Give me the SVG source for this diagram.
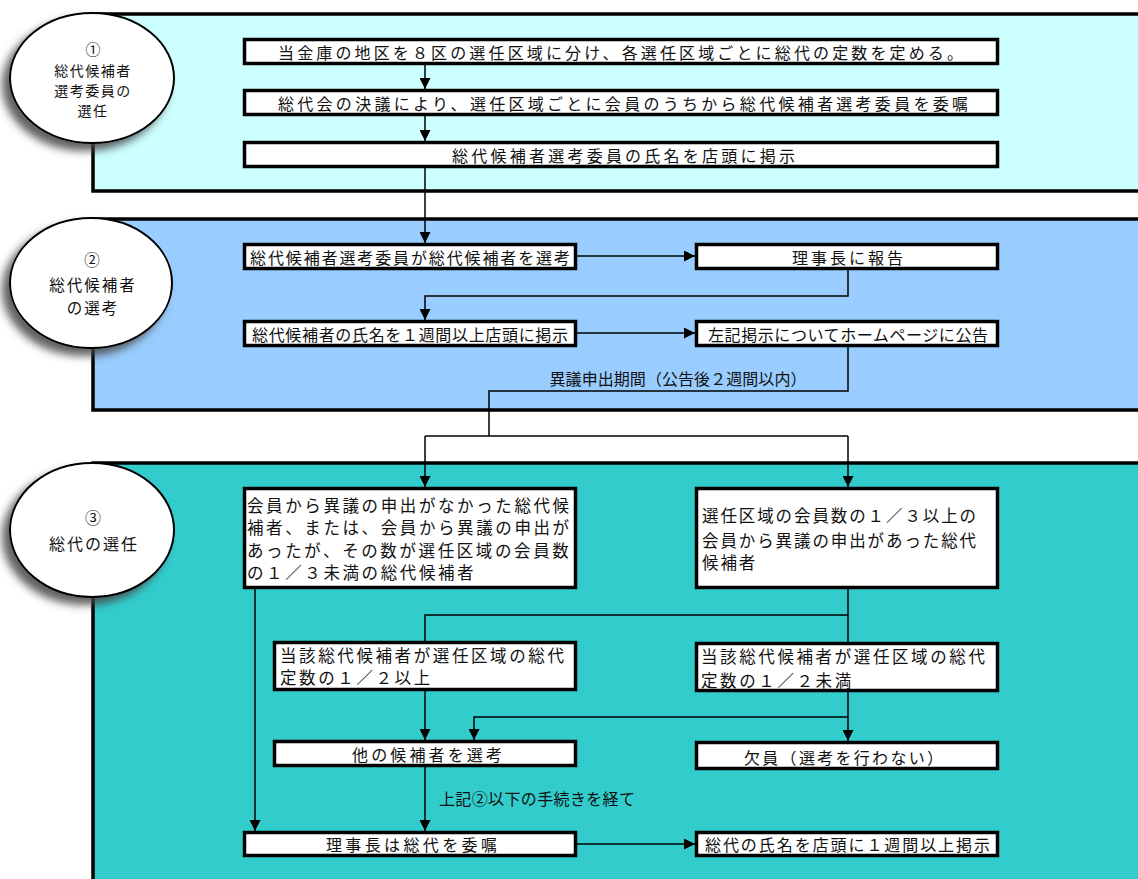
<svg xmlns="http://www.w3.org/2000/svg" width="1138" height="879" viewBox="0 0 1138 879">
<defs>
<style>
.panel{stroke:#000;stroke-width:3.5}
.box{fill:#fff;stroke:#000;stroke-width:3.5}
.oval{fill:#fff;stroke:#000;stroke-width:2;filter:url(#sh)}
.t{font-family:"Noto Sans CJK JP","Noto Sans CJK SC",sans-serif;font-size:16px;fill:#111}
.m{font-size:16.5px;letter-spacing:2.6px}
.ot{font-family:"Noto Sans CJK JP",sans-serif;fill:#111;text-anchor:middle;dominant-baseline:central}
.ln{fill:none;stroke:#000;stroke-width:1.5}
.ar{marker-end:url(#ah)}
</style>
<marker id="ah" viewBox="0 0 10 10" refX="10" refY="5" markerWidth="11" markerHeight="11" markerUnits="userSpaceOnUse" orient="auto">
<path d="M0,0 L10,5 L0,10 z" fill="#000"/>
</marker>
<filter id="sh" x="-30%" y="-30%" width="160%" height="160%">
<feDropShadow dx="-7" dy="7" stdDeviation="4" flood-color="#444" flood-opacity="0.85"/>
</filter>
</defs>

<g id="panels">
<rect class="panel" x="93" y="14" width="1060" height="177" fill="#CCFFFF"/>
<rect class="panel" x="93" y="219" width="1060" height="191" fill="#99CCFF"/>
<rect class="panel" x="93" y="463" width="1060" height="430" fill="#33CCCC"/>
</g>

<g id="stage1">
<ellipse class="oval" cx="92" cy="78" rx="82" ry="65"/>
<text class="ot" font-size="14"><tspan x="93" y="48" font-size="15">①</tspan><tspan x="93" y="70" letter-spacing="1.5">総代候補者</tspan><tspan x="93" y="90" letter-spacing="1.5">選考委員の</tspan><tspan x="93" y="110" letter-spacing="1.5">選任</tspan></text>
</g>
<g id="stage2">
<ellipse class="oval" cx="91" cy="283" rx="81" ry="65"/>
<text class="ot" font-size="15.5"><tspan x="92" y="259">②</tspan><tspan x="93" y="284" letter-spacing="2">総代候補者</tspan><tspan x="93" y="307" letter-spacing="2">の選考</tspan></text>
</g>
<g id="stage3">
<ellipse class="oval" cx="92" cy="530" rx="82" ry="67"/>
<text class="ot" font-size="16"><tspan x="93" y="517">③</tspan><tspan x="94" y="543" letter-spacing="2">総代の選任</tspan></text>
</g>

<g id="connectors">
<path class="ln ar" d="M425,65 V89"/>
<path class="ln ar" d="M425,116 V141"/>
<path class="ln ar" d="M425,168 V243"/>
<path class="ln ar" d="M577,256 H695"/>
<path class="ln ar" d="M848,270 V296 H425 V320"/>
<path class="ln ar" d="M577,333 H695"/>
<path class="ln" d="M848,347 V391 H489 V436"/>
<path class="ln" d="M425,436 H848"/>
<path class="ln ar" d="M425,436 V487"/>
<path class="ln ar" d="M848,436 V487"/>
<path class="ln ar" d="M255,589 V831"/>
<path class="ln" d="M848,589 V642"/>
<path class="ln" d="M848,615 H425 V641"/>
<path class="ln ar" d="M425,691 V740"/>
<path class="ln ar" d="M848,692 V741"/>
<path class="ln ar" d="M848,717 H474 V740"/>
<path class="ln ar" d="M425,767 V831"/>
<path class="ln ar" d="M577,844 H695"/>
<text class="t" x="678" y="378" font-size="14" text-anchor="middle" dominant-baseline="central" textLength="257" lengthAdjust="spacing">異議申出期間（公告後２週間以内）</text>
<text class="t" x="439" y="798" font-size="14.5" dominant-baseline="central" textLength="196" lengthAdjust="spacing">上記②以下の手続きを経て</text>
</g>

<g id="n1"><rect class="box" x="244.5" y="39.5" width="753" height="24"/>
<text class="t" x="278" y="52" dominant-baseline="central" textLength="685" lengthAdjust="spacing">当金庫の地区を８区の選任区域に分け、各選任区域ごとに総代の定数を定める。</text></g>
<g id="n2"><rect class="box" x="244.5" y="90.5" width="753" height="24"/>
<text class="t" x="278" y="103" dominant-baseline="central" textLength="690" lengthAdjust="spacing">総代会の決議により、選任区域ごとに会員のうちから総代候補者選考委員を委嘱</text></g>
<g id="n3"><rect class="box" x="244.5" y="142.5" width="753" height="24"/>
<text class="t" x="452" y="155" dominant-baseline="central" textLength="343" lengthAdjust="spacing">総代候補者選考委員の氏名を店頭に掲示</text></g>

<g id="nA"><rect class="box" x="244.5" y="244.5" width="331" height="24"/>
<text class="t" x="250" y="257" dominant-baseline="central" textLength="320" lengthAdjust="spacing">総代候補者選考委員が総代候補者を選考</text></g>
<g id="nB"><rect class="box" x="696.5" y="244.5" width="301" height="24"/>
<text class="t" x="792" y="257" dominant-baseline="central" textLength="111" lengthAdjust="spacing">理事長に報告</text></g>
<g id="nC"><rect class="box" x="244.5" y="321.5" width="331" height="24"/>
<text class="t" x="252" y="334" dominant-baseline="central" textLength="316" lengthAdjust="spacing">総代候補者の氏名を１週間以上店頭に掲示</text></g>
<g id="nD"><rect class="box" x="696.5" y="321.5" width="301" height="24"/>
<text class="t" x="708" y="334" dominant-baseline="central" textLength="280" lengthAdjust="spacing">左記掲示についてホームページに公告</text></g>

<g id="nE"><rect class="box" x="244.5" y="488.5" width="331" height="99"/>
<text class="t m" dominant-baseline="central"><tspan x="247" y="505">会員から異議の申出がなかった総代候</tspan><tspan x="247" y="527">補者、または、会員から異議の申出が</tspan><tspan x="247" y="550">あったが、その数が選任区域の会員数</tspan><tspan x="247" y="572">の１／３未満の総代候補者</tspan></text></g>
<g id="nF"><rect class="box" x="696.5" y="488.5" width="301" height="99"/>
<text class="t m" dominant-baseline="central" style="letter-spacing:1.9px"><tspan x="702" y="515">選任区域の会員数の１／３以上の</tspan><tspan x="702" y="540">会員から異議の申出があった総代</tspan><tspan x="702" y="562">候補者</tspan></text></g>

<g id="nG"><rect class="box" x="274.5" y="642.5" width="301" height="47"/>
<text class="t m" dominant-baseline="central"><tspan x="280" y="655">当該総代候補者が選任区域の総代</tspan><tspan x="280" y="677">定数の１／２以上</tspan></text></g>
<g id="nH"><rect class="box" x="696.5" y="643.5" width="301" height="47"/>
<text class="t m" dominant-baseline="central"><tspan x="701" y="656">当該総代候補者が選任区域の総代</tspan><tspan x="701" y="680">定数の１／２未満</tspan></text></g>

<g id="nJ"><rect class="box" x="274.5" y="741.5" width="301" height="24"/>
<text class="t" x="352" y="754" dominant-baseline="central" font-size="17" textLength="150" lengthAdjust="spacing">他の候補者を選考</text></g>
<g id="nI"><rect class="box" x="696.5" y="742.5" width="301" height="26"/>
<text class="t" x="744" y="757" dominant-baseline="central" textLength="199" lengthAdjust="spacing">欠員（選考を行わない）</text></g>

<g id="nK"><rect class="box" x="244.5" y="832.5" width="331" height="23"/>
<text class="t" x="326" y="844" dominant-baseline="central" font-size="17" textLength="171" lengthAdjust="spacing">理事長は総代を委嘱</text></g>
<g id="nL"><rect class="box" x="696.5" y="832.5" width="301" height="23"/>
<text class="t" x="705" y="844" dominant-baseline="central" textLength="285" lengthAdjust="spacing">総代の氏名を店頭に１週間以上掲示</text></g>
</svg>
